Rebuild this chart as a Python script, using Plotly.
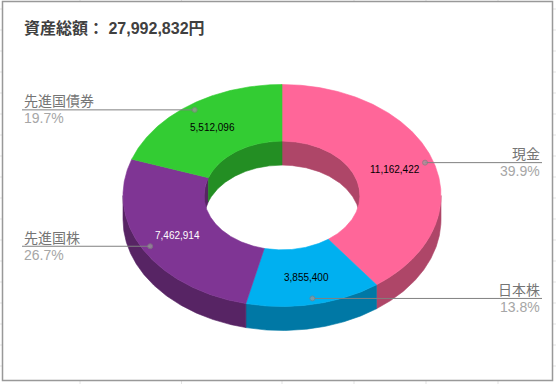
import math
import plotly.graph_objects as go

categories = ["現金", "日本株", "先進国株", "先進国債券"]
values = [11162422, 3855400, 7462914, 5512096]
title_text = "資産総額： 27,992,832円"

top_colors = ["#FF6699", "#00B0F0", "#7F3594", "#33CC33"]
wall_colors = ["#AE4668", "#0078A5", "#572464", "#238E23"]
value_text_colors = ["#000000", "#000000", "#FFFFFF", "#000000"]

W, H = 556, 384
CX, CY = 282, 195.5
RX, RY = 159, 111
INNER = 0.49
DEPTH = 24
SANS = "Liberation Sans, Noto Sans CJK JP, sans-serif"
total = sum(values)


def pt(theta, r=1.0, dy=0.0):
    a = math.radians(theta)
    return CX + r * RX * math.sin(a), CY - r * RY * math.cos(a) + dy


def arc(t0, t1, r=1.0, dy=0.0):
    n = max(2, int(abs(t1 - t0) * 2) + 1)
    return [pt(t0 + (t1 - t0) * i / (n - 1), r, dy) for i in range(n)]


def poly(points, color, line=None, lw=0.6):
    xs = [p[0] for p in points] + [points[0][0]]
    ys = [p[1] for p in points] + [points[0][1]]
    return go.Scatter(x=xs, y=ys, mode="lines", fill="toself", fillcolor=color,
                      line=dict(color=line or color, width=lw), hoverinfo="skip",
                      showlegend=False)


angles = []
acc = 0
for v in values:
    angles.append((acc / total * 360, (acc + v) / total * 360))
    acc += v

fig = go.Figure()

# inner wall (back half of the hole) and outer wall (front half)
for (t0, t1), c in zip(angles, wall_colors):
    for lo, hi in ((-90, 90), (270, 450)):
        a, b = max(t0, lo), min(t1, hi)
        if a < b:
            fig.add_trace(poly(arc(a, b, INNER) + arc(b, a, INNER, DEPTH), c))
    a, b = max(t0, 90), min(t1, 270)
    if a < b:
        fig.add_trace(poly(arc(a, b) + arc(b, a, 1.0, DEPTH), c))

# top faces
for (t0, t1), c in zip(angles, top_colors):
    fig.add_trace(poly(arc(t0, t1) + arc(t1, t0, INNER), c))

shapes = []
annotations = []

# value labels and leader lines, placed from each slice's mid angle
for name, v, (t0, t1), tc in zip(categories, values, angles, value_text_colors):
    mid = (t0 + t1) / 2
    lx, ly = pt(mid, 0.75)
    annotations.append(dict(x=lx, y=ly, text=f"{v:,}", showarrow=False, xanchor="center",
                            yanchor="middle", font=dict(family=SANS, size=10, color=tc)))
    dx, dy = pt(mid, 0.947)
    right = math.sin(math.radians(mid)) > 0
    edge = 542 if right else 22
    fig.add_trace(go.Scatter(x=[edge, dx], y=[dy, dy], mode="lines+markers",
                             line=dict(color="#808080", width=1),
                             marker=dict(size=[0, 5], color="#999999"),
                             hoverinfo="skip", showlegend=False))
    anchor = "right" if right else "left"
    annotations.append(dict(x=edge, y=dy - 9.5, text=name, showarrow=False, xanchor=anchor,
                            yanchor="middle", xshift=0,
                            font=dict(family="Noto Sans CJK JP", size=14, color="#757575")))
    annotations.append(dict(x=edge, y=dy + 8.5, text=f"{v / total * 100:.1f}%", showarrow=False,
                            xanchor=anchor, yanchor="middle",
                            font=dict(family=SANS, size=14, color="#A6A6A6")))

annotations.append(dict(x=22, y=28, text=f"<b>{title_text}</b>", showarrow=False, xanchor="left",
                        yanchor="middle",
                        font=dict(family="Liberation Sans, Noto Sans CJK JP", size=16, color="#404040")))

# faint spreadsheet grid stubs around the chart frame
for gx in (80, 181.5, 282, 354, 426, 498):
    shapes.append(dict(type="line", x0=gx, x1=gx, y0=381, y1=384, line=dict(color="#E3E3E3", width=1), layer="below"))
for gx in (80, 181.5, 354, 426, 498):
    shapes.append(dict(type="line", x0=gx, x1=gx, y0=0, y1=1, line=dict(color="#E3E3E3", width=1), layer="below"))
for k in range(18):
    gy = 9 + 21 * k
    shapes.append(dict(type="line", x0=0, x1=2, y0=gy, y1=gy, line=dict(color="#E3E3E3", width=1), layer="below"))
    shapes.append(dict(type="line", x0=553, x1=556, y0=gy, y1=gy, line=dict(color="#E3E3E3", width=1), layer="below"))
shapes.append(dict(type="rect", x0=2.5, y0=1.5, x1=552.5, y1=380.5, line=dict(color="#999999", width=1.5),
                   fillcolor="rgba(0,0,0,0)", layer="below"))

fig.update_layout(
    width=W, height=H, margin=dict(l=0, r=0, t=0, b=0),
    paper_bgcolor="white", plot_bgcolor="white", showlegend=False,
    xaxis=dict(range=[0, W], visible=False, fixedrange=True),
    yaxis=dict(range=[H, 0], visible=False, fixedrange=True),
    shapes=shapes, annotations=annotations,
)
fig.write_html("out.html", config={"displayModeBar": False},
               post_script="document.body.style.margin='0';document.documentElement.style.overflow='hidden';")
